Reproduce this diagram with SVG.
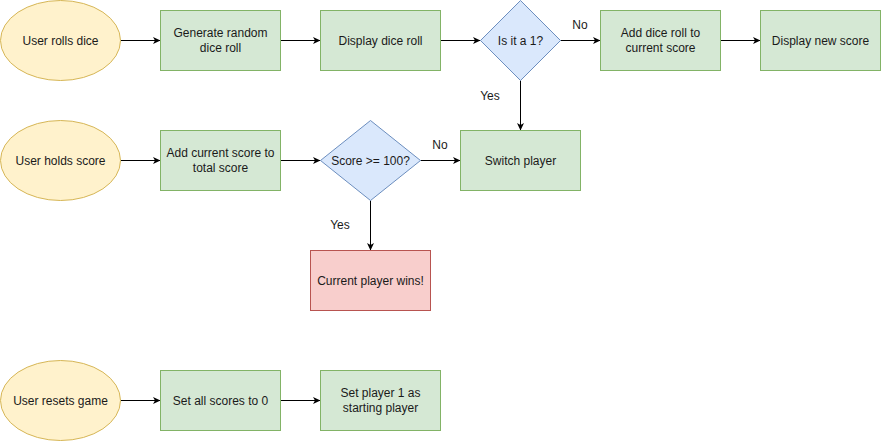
<svg xmlns="http://www.w3.org/2000/svg" width="881" height="441" viewBox="0 0 881 441">
<style>
.t{font-family:"Liberation Sans",Arial,sans-serif;font-size:12px;fill:#1a1a1a;text-anchor:middle}
.y{fill:#fff2cc;stroke:#d6b656}
.g{fill:#d5e8d4;stroke:#82b366}
.b{fill:#dae8fc;stroke:#6c8ebf}
.r{fill:#f8cecc;stroke:#b85450}
.e{fill:none;stroke:#000;stroke-width:1;marker-end:url(#a)}
</style>
<defs>
<marker id="a" markerUnits="userSpaceOnUse" markerWidth="10" markerHeight="10" refX="10" refY="5" orient="auto">
<path d="M10,5 L2.5,1.5 L4.5,5 L2.5,8.5 Z" fill="#000"/>
</marker>
</defs>
<rect width="881" height="441" fill="#fff"/>
<g id="connectors">
<line class="e" x1="120.5" y1="40.5" x2="160.5" y2="40.5"/>
<line class="e" x1="280.5" y1="40.5" x2="320.5" y2="40.5"/>
<line class="e" x1="440.5" y1="40.5" x2="480.5" y2="40.5"/>
<line class="e" x1="560.5" y1="40.5" x2="600.5" y2="40.5"/>
<line class="e" x1="720.5" y1="40.5" x2="760.5" y2="40.5"/>
<line class="e" x1="520.5" y1="80.5" x2="520.5" y2="130.5"/>
<line class="e" x1="120.5" y1="160.5" x2="160.5" y2="160.5"/>
<line class="e" x1="280.5" y1="160.5" x2="320.5" y2="160.5"/>
<line class="e" x1="420.5" y1="160.5" x2="460.5" y2="160.5"/>
<line class="e" x1="370.5" y1="200.5" x2="370.5" y2="250.5"/>
<line class="e" x1="120.5" y1="400.5" x2="160.5" y2="400.5"/>
<line class="e" x1="280.5" y1="400.5" x2="320.5" y2="400.5"/>
<text class="t" x="580" y="29">No</text>
<text class="t" x="490" y="100">Yes</text>
<text class="t" x="440" y="149">No</text>
<text class="t" x="340" y="229">Yes</text>
</g>
<g id="rolls"><ellipse class="y" cx="60.5" cy="40.5" rx="60" ry="40"/><text class="t" x="60.5" y="44.5">User rolls dice</text></g>
<g id="generate"><rect class="g" x="160.5" y="10.5" width="120" height="60"/><text class="t" x="220.5" y="37">Generate random</text><text class="t" x="220.5" y="52">dice roll</text></g>
<g id="display"><rect class="g" x="320.5" y="10.5" width="120" height="60"/><text class="t" x="380.5" y="44.5">Display dice roll</text></g>
<g id="isone"><path class="b" d="M520.5,0.5 L560.5,40.5 L520.5,80.5 L480.5,40.5 Z"/><text class="t" x="520.5" y="44.5">Is it a 1?</text></g>
<g id="add"><rect class="g" x="600.5" y="10.5" width="120" height="60"/><text class="t" x="660.5" y="37">Add dice roll to</text><text class="t" x="660.5" y="52">current score</text></g>
<g id="displaynew"><rect class="g" x="760.5" y="10.5" width="120" height="60"/><text class="t" x="820.5" y="44.5">Display new score</text></g>
<g id="holds"><ellipse class="y" cx="60.5" cy="160.5" rx="60" ry="40"/><text class="t" x="60.5" y="164.5">User holds score</text></g>
<g id="addtotal"><rect class="g" x="160.5" y="130.5" width="120" height="60"/><text class="t" x="220.5" y="157">Add current score to</text><text class="t" x="220.5" y="172">total score</text></g>
<g id="score100"><path class="b" d="M370.5,120.5 L420.5,160.5 L370.5,200.5 L320.5,160.5 Z"/><text class="t" x="370.5" y="164.5">Score &gt;= 100?</text></g>
<g id="switch"><rect class="g" x="460.5" y="130.5" width="120" height="60"/><text class="t" x="520.5" y="164.5">Switch player</text></g>
<g id="wins"><rect class="r" x="310.5" y="250.5" width="120" height="60"/><text class="t" x="370.5" y="284.5">Current player wins!</text></g>
<g id="resets"><ellipse class="y" cx="60.5" cy="400.5" rx="60" ry="40"/><text class="t" x="60.5" y="404.5">User resets game</text></g>
<g id="setall"><rect class="g" x="160.5" y="370.5" width="120" height="60"/><text class="t" x="220.5" y="404.5">Set all scores to 0</text></g>
<g id="setplayer"><rect class="g" x="320.5" y="370.5" width="120" height="60"/><text class="t" x="380.5" y="397">Set player 1 as</text><text class="t" x="380.5" y="412">starting player</text></g>
</svg>
